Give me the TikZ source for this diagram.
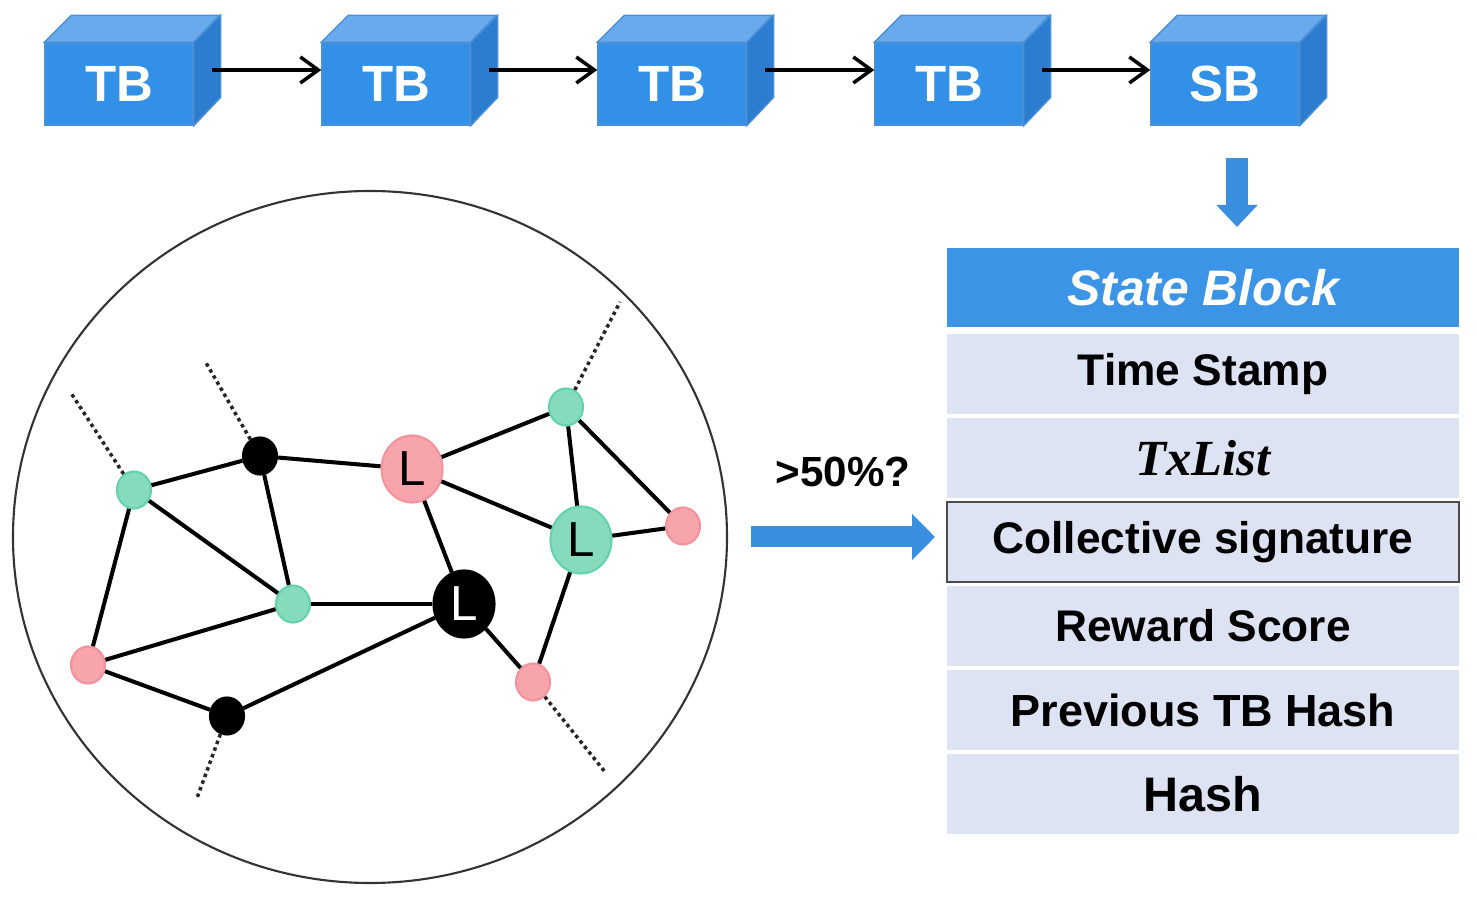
\documentclass[tikz,border=0pt]{standalone}
\usepackage{fontspec}
\setmainfont{Liberation Sans}
\newfontfamily\txfont{Liberation Serif}
\usetikzlibrary{arrows.meta,positioning,shapes.geometric}

\definecolor{blkfront}{HTML}{3291E6}
\definecolor{blktop}{HTML}{68AAEC}
\definecolor{blkside}{HTML}{2C7DCF}
\definecolor{blkedge}{HTML}{4A90D9}
\definecolor{hdrblue}{HTML}{3B94E6}
\definecolor{rowfill}{HTML}{DDE3F2}
\definecolor{pinkpeer}{HTML}{F7A4AC}
\definecolor{pinkedge}{HTML}{F2939D}
\definecolor{greenpeer}{HTML}{86DBBC}
\definecolor{greenedge}{HTML}{62D3AA}
\definecolor{arrowblue}{HTML}{3A8FE0}

\tikzset{
  blockface/.style={rectangle,fill=blkfront,draw=blkedge,line width=0.4pt,
    minimum width=1.48cm,minimum height=0.82cm,inner sep=0pt,text=white,
    font=\fontsize{14.5}{17}\selectfont\bfseries},
  hdrrow/.style={rectangle,fill=hdrblue,minimum width=5.12cm,minimum height=0.79cm,
    inner sep=0pt,outer sep=0pt,text=white,font=\fontsize{14.2}{17}\selectfont\bfseries\itshape},
  row/.style={rectangle,fill=rowfill,minimum width=5.12cm,minimum height=0.80cm,
    inner sep=0pt,outer sep=0pt,font=\fontsize{12.6}{15}\selectfont\bfseries},
  peernode/.style={ellipse,minimum width=0.34cm,minimum height=0.37cm,inner sep=0pt,line width=0.6pt},
  leadnode/.style={ellipse,minimum width=0.61cm,minimum height=0.67cm,inner sep=0pt,line width=0.6pt,
    font=\fontsize{14}{16}\selectfont},
  pinkp/.style={fill=pinkpeer,draw=pinkedge},
  greenp/.style={fill=greenpeer,draw=greenedge},
  blackp/.style={fill=black,draw=black,text=white},
  link/.style={line width=1.15pt},
  loose/.style={densely dotted,line width=1pt,black!85},
  bigarrow/.style={arrowblue,line width=0.21cm,-{Triangle[length=0.23cm,width=0.45cm]}}
}

% one block: front face as a node, top and side faces drawn from its anchors
\newcommand{\cube}[3]{%
  \node[blockface] (#1) at (#2) {#3};
  \filldraw[fill=blktop,draw=blkedge,line width=0.4pt]
    (#1.north west) -- ++(0.27,0.27) -- ++(1.48,0) -- (#1.north east) -- cycle;
  \filldraw[fill=blkside,draw=blkedge,line width=0.4pt]
    (#1.north east) -- ++(0.27,0.27) -- ++(0,-0.82) -- (#1.south east) -- cycle;
}

\begin{document}
\begin{tikzpicture}[>=Latex]
\useasboundingbox (0,0) rectangle (14.76,8.98);

% --- chain of blocks ---
\cube{tb1}{1.19,8.14}{TB}
\cube{tb2}{3.96,8.14}{TB}
\cube{tb3}{6.72,8.14}{TB}
\cube{tb4}{9.49,8.14}{TB}
\cube{sb}{12.25,8.14}{SB}
\foreach \a/\b in {tb1/tb2,tb2/tb3,tb3/tb4,tb4/sb}
  \draw[line width=1pt,-{Straight Barb[length=0.18cm,width=0.26cm]}]
    ([xshift=0.18cm,yshift=0.14cm]\a.east) -- ([yshift=0.14cm]\b.west);

% --- state block table ---
\node[hdrrow] (hdr) at (12.03,6.105) {State Block};
\node[row,below=0.07cm of hdr] (ts) {Time Stamp};
\node[row,below=0.04cm of ts,font=\txfont\fontsize{14.4}{17}\selectfont\bfseries\itshape] (tx) {TxList};
\node[row,below=0.04cm of tx,draw=black!70,line width=0.8pt] (sig) {Collective signature};
\node[row,below=0.04cm of sig] (rw) {Reward Score};
\node[row,below=0.04cm of rw,font=\fontsize{12.8}{15}\selectfont\bfseries] (pv) {Previous TB Hash};
\node[row,below=0.04cm of pv,font=\fontsize{13.8}{16}\selectfont\bfseries] (hs) {Hash};

% SB goes into the table
\draw[bigarrow,line width=0.22cm,-{Triangle[length=0.22cm,width=0.40cm]}]
  ([xshift=0.12cm,yshift=-0.32cm]sb.south) -- ([xshift=0.12cm,yshift=0.21cm]sb.south |- hdr.north);

% --- network of peers ---
\node[draw=black!80,ellipse,line width=0.6pt,minimum width=7.14cm,minimum height=6.92cm,inner sep=0pt]
  (net) at (3.70,3.61) {};

\node[peernode,greenp] (g1) at (1.34,4.08) {};
\node[peernode,blackp] (b1) at (2.60,4.42) {};
\node[leadnode,pinkp] (l1) at (4.12,4.29) {L};
\node[peernode,greenp] (g2) at (5.66,4.91) {};
\node[leadnode,greenp] (l2) at (5.81,3.58) {L};
\node[peernode,pinkp] (p1) at (6.83,3.72) {};
\node[peernode,greenp] (g3) at (2.93,2.94) {};
\node[leadnode,blackp] (l3) at (4.64,2.94) {L};
\node[peernode,pinkp] (p2) at (0.88,2.33) {};
\node[peernode,blackp] (b2) at (2.27,1.82) {};
\node[peernode,pinkp] (p3) at (5.33,2.16) {};

\foreach \a/\b in {g1/b1,b1/l1,l1/g2,g2/l2,g2/p1,l1/l2,l2/p1,l1/l3,g3/l3,b1/g3,
                   g1/g3,g1/p2,p2/g3,p2/b2,b2/l3,l3/p3,l2/p3}
  \draw[link] (\a) -- (\b);

% links leaving the picture
\coordinate (d1) at (0.71,5.05);
\coordinate (d2) at (2.05,5.37);
\coordinate (d3) at (6.20,5.96);
\coordinate (d4) at (1.97,1.00);
\coordinate (d5) at (6.05,1.26);
\foreach \a/\b in {g1/d1,b1/d2,g2/d3,b2/d4,p3/d5}
  \draw[loose] (\a) -- (\b);

% network to signature
\draw[bigarrow] ([xshift=0.23cm]net.east) -- ([xshift=-0.12cm]sig.west |- net.east)
  node[midway,yshift=0.65cm,text=black,font=\fontsize{12}{14}\selectfont\bfseries] (vote) {>50\%?};
\end{tikzpicture}
\end{document}
